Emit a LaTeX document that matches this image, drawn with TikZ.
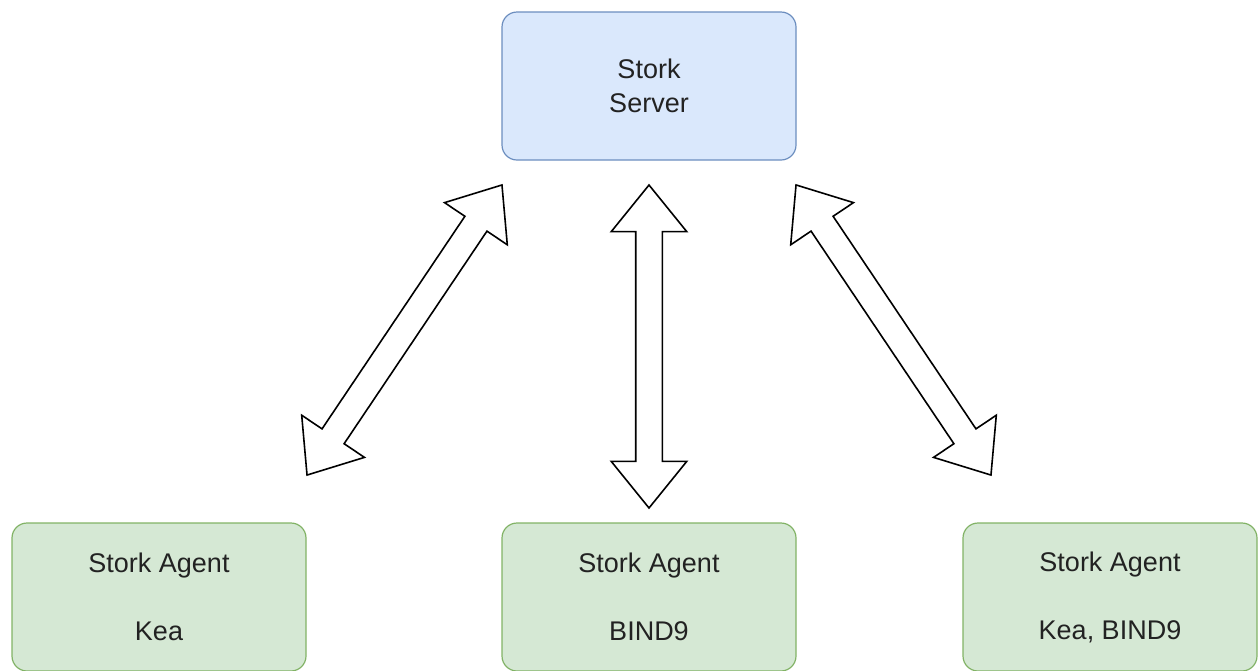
\documentclass[tikz,border=0pt]{standalone}
\usepackage{fontspec}
\setmainfont{Liberation Sans}
\usepackage{xcolor}
\usetikzlibrary{shapes.arrows,calc}

\definecolor{srvfill}{HTML}{DAE8FC}
\definecolor{srvline}{HTML}{6C8EBF}
\definecolor{agtfill}{HTML}{D5E8D4}
\definecolor{agtline}{HTML}{82B366}
\definecolor{txt}{HTML}{222222}

\tikzset{
  box/.style={rounded corners=7.5pt, minimum width=147pt, minimum height=74pt,
    line width=0.6pt, align=center, text=txt,
    font=\fontsize{13.5}{17}\selectfont},
  serverbox/.style={box, draw=srvline, fill=srvfill},
  agentbox/.style={box, draw=agtline, fill=agtfill},
  blockarrow/.style={double arrow, draw, line width=0.8pt, fill=white,
    inner xsep=0pt, inner ysep=6.25pt, double arrow head extend=12.25pt,
    double arrow tip angle=78, double arrow head indent=0pt}
}

\begin{document}
\begin{tikzpicture}[x=0.5pt, y=-0.5pt]
  \useasboundingbox (0,0) rectangle (1258,670);

  % Draw the server and the agents
  \node[serverbox] (server) at (649,86) {Stork\\Server};
  \node[agentbox] (agentkea) at (159,597) {Stork Agent\\\mbox{}\\Kea};
  \node[agentbox] (agentbind) at (649,597) {Stork Agent\\\mbox{}\\BIND9};
  \node[agentbox] (agentboth) at (1110,597) {Stork Agent\\\mbox{}\\Kea, BIND9};

  % Draw arrow tips
  \coordinate (keatop) at (502,185);
  \coordinate (keabot) at (307,475);
  \coordinate (bindtop) at (649,185);
  \coordinate (bindbot) at (649,508);
  \coordinate (bothtop) at (796,185);
  \coordinate (bothbot) at (991,475);

  % Draw the block arrows
  \node[blockarrow, minimum height=174.75pt, rotate=56.1] (arrkea)
    at ($(keatop)!0.5!(keabot)$) {};
  \node[blockarrow, minimum height=161.5pt, rotate=90] (arrbind)
    at ($(bindtop)!0.5!(bindbot)$) {};
  \node[blockarrow, minimum height=174.75pt, rotate=-56.1] (arrboth)
    at ($(bothtop)!0.5!(bothbot)$) {};
\end{tikzpicture}
\end{document}
